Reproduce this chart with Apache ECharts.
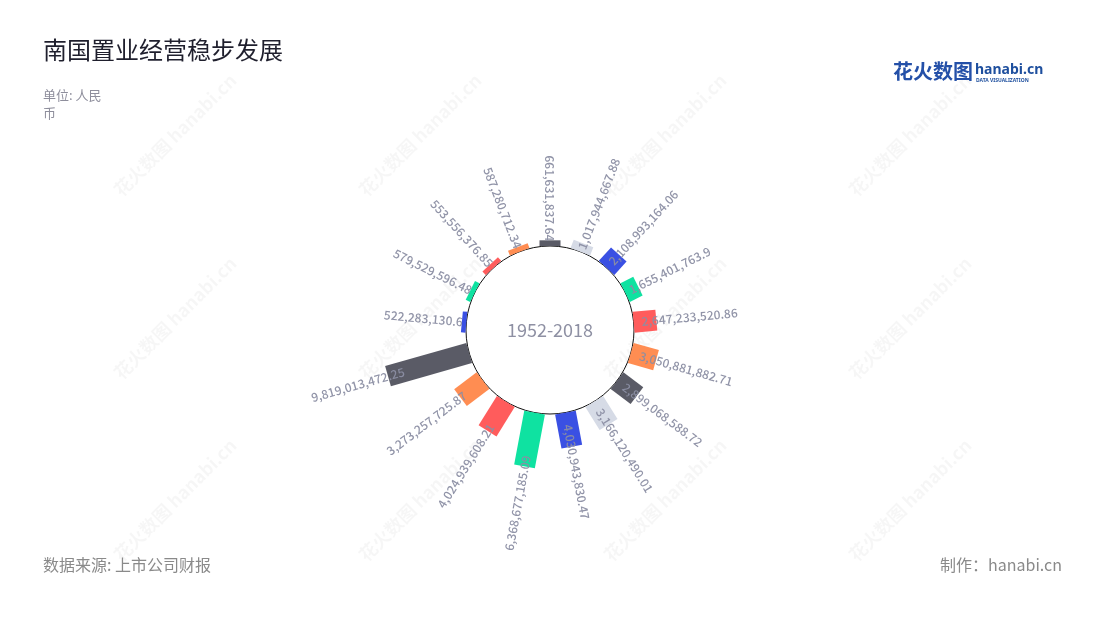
<!DOCTYPE html>
<html>
<head>
<meta charset="utf-8">
<script src="https://cdn.jsdelivr.net/npm/echarts@6/dist/echarts.min.js"></script>
<style>
html,body{margin:0;padding:0;background:#fff;}
#main{width:1100px;height:620px;}
</style>
</head>
<body>
<div id="main"></div>
<script>
// ---- data ----
const categories = ['2002','2003','2004','2005','2006','2007','2008','2009','2010','2011','2012','2013','2014','2015','2016','2017','2018'];
const values = [661631837.64, 1017944667.88, 2108993164.06, 1655401763.9, 2647233520.86, 3050881882.71, 2899068588.72, 3166120490.01, 4030943830.47, 6368677185.09, 4024939608.21, 3273257725.87, 9819013472.25, 522283130.6, 579529596.48, 553556376.85, 587280712.34];
const centerLabel = '1952-2018';

// ---- styles ----
const DARK = '#5a5b66', LIGHT = '#d6dbe6', BLUE = '#3a50e3', GREEN = '#0fe2a1', RED = '#ff5c5c', ORANGE = '#ff8d52';
const itemColors = [DARK, LIGHT, BLUE, GREEN, RED, ORANGE, DARK, LIGHT, BLUE, GREEN, RED, ORANGE, DARK, BLUE, GREEN, RED, ORANGE];
const BAR_W = 21;
const LABEL_COLOR = '#8b8ea3';

function fmt(v) {
  return v.toLocaleString('en-US', {maximumFractionDigits: 2});
}

const chart = echarts.init(document.getElementById('main'), null, {renderer: 'canvas'});

const watermarkPos = [];
[175, 420, 665, 910].forEach(function (x) {
  [135, 318, 500].forEach(function (y) { watermarkPos.push([x, y]); });
});

const graphics = watermarkPos.map(function (p) {
  return {
    type: 'text', x: p[0], y: p[1], rotation: Math.PI / 4, z: -10, silent: true,
    style: {
      text: '花火数图 hanabi.cn', align: 'center', verticalAlign: 'middle',
      textAlign: 'center', textVerticalAlign: 'middle',
      font: 'bold 18px "Noto Sans CJK SC"', fill: 'rgba(0,0,0,0.035)'
    }
  };
}).concat([
  {type: 'text', left: 893, top: 61, style: {text: '花火数图', font: 'bold 20px "Noto Sans CJK SC"', fill: '#2450a8'}},
  {type: 'text', left: 975, top: 63, style: {text: 'hanabi.cn', font: 'bold 14px "Noto Sans"', fill: '#1e4f9e'}},
  {type: 'text', left: 976, top: 78, style: {text: 'DATA VISUALIZATION', font: 'bold 5px "Noto Sans"', fill: '#1e4f9e'}}
]);

const option = {
  backgroundColor: '#ffffff',
  animation: false,
  title: [
    {
      text: '南国置业经营稳步发展', subtext: '单位: 人民币', left: 43, top: 38, padding: 0, itemGap: 24,
      textStyle: {fontSize: 24, fontWeight: 'normal', color: '#1f1f2d', fontFamily: '"Noto Sans CJK SC"'},
      subtextStyle: {fontSize: 13, color: '#8e8e9c', width: 66, overflow: 'break', lineHeight: 18, fontFamily: '"Noto Sans CJK SC"'}
    },
    {
      text: centerLabel, left: 'center', top: 321, padding: 0,
      textStyle: {fontSize: 18, fontWeight: 'normal', color: '#8e90a3', fontFamily: '"Noto Sans CJK SC"'}
    },
    {
      text: '数据来源: 上市公司财报', left: 43, top: 557, padding: 0,
      textStyle: {fontSize: 16, fontWeight: 'normal', color: '#8a8a8a', fontFamily: '"Noto Sans CJK SC"'}
    },
    {
      text: '制作：hanabi.cn', right: 38, top: 557, padding: 0,
      textStyle: {fontSize: 16, fontWeight: 'normal', color: '#8a8a8a', fontFamily: '"Noto Sans CJK SC"'}
    }
  ],
  graphic: graphics,
  polar: [
    {center: ['50%', 330], radius: [84, 170]},
    {center: ['50%', 330], radius: 84}
  ],
  angleAxis: [
    {polarIndex: 0, type: 'category', data: categories, startAngle: 90 + 360 / categories.length / 2, clockwise: true, show: false},
    {polarIndex: 1, type: 'value', min: 0, max: 1, startAngle: 90,
     axisLine: {show: true, lineStyle: {color: '#111', width: 1}},
     axisTick: {show: false}, axisLabel: {show: false}, splitLine: {show: false}}
  ],
  radiusAxis: [
    {polarIndex: 0, type: 'value', min: 0, max: 1e10, show: false},
    {polarIndex: 1, type: 'value', min: 0, max: 1, show: false}
  ],
  series: [{
    type: 'custom',
    coordinateSystem: 'polar',
    polarIndex: 0,
    data: values.map(function (v, i) { return [v, i]; }),
    renderItem: function (params, api) {
      const idx = params.dataIndex;
      const v = api.value(0);
      const c = api.value(1);
      const p0 = api.coord([0, c]);
      const p1 = api.coord([v, c]);
      const dx = p1[0] - p0[0], dy = p1[1] - p0[1];
      const len = Math.sqrt(dx * dx + dy * dy) || 1;
      const ux = dx / len, uy = dy / len;
      const nx = -uy * BAR_W / 2, ny = ux * BAR_W / 2;
      const pts = [
        [p0[0] + nx, p0[1] + ny], [p1[0] + nx, p1[1] + ny],
        [p1[0] - nx, p1[1] - ny], [p0[0] - nx, p0[1] - ny]
      ];
      const ang = Math.atan2(-dy, dx);
      const right = Math.cos(ang) > 1e-6;
      const t = right ? 0.35 : 0.8;
      const ax = p0[0] + dx * t, ay = p0[1] + dy * t;
      return {
        type: 'group',
        children: [
          {type: 'polygon', shape: {points: pts}, style: {fill: itemColors[idx]}},
          {
            type: 'text', x: ax, y: ay, rotation: right ? ang : ang - Math.PI, z2: 10,
            style: {
              text: fmt(values[idx]),
              align: right ? 'left' : 'right', verticalAlign: 'middle',
              textAlign: right ? 'left' : 'right', textVerticalAlign: 'middle',
              font: '500 12px "Noto Sans CJK SC"', fill: LABEL_COLOR, opacity: 0.95
            }
          }
        ]
      };
    }
  }]
};

chart.setOption(option);
</script>
</body>
</html>
